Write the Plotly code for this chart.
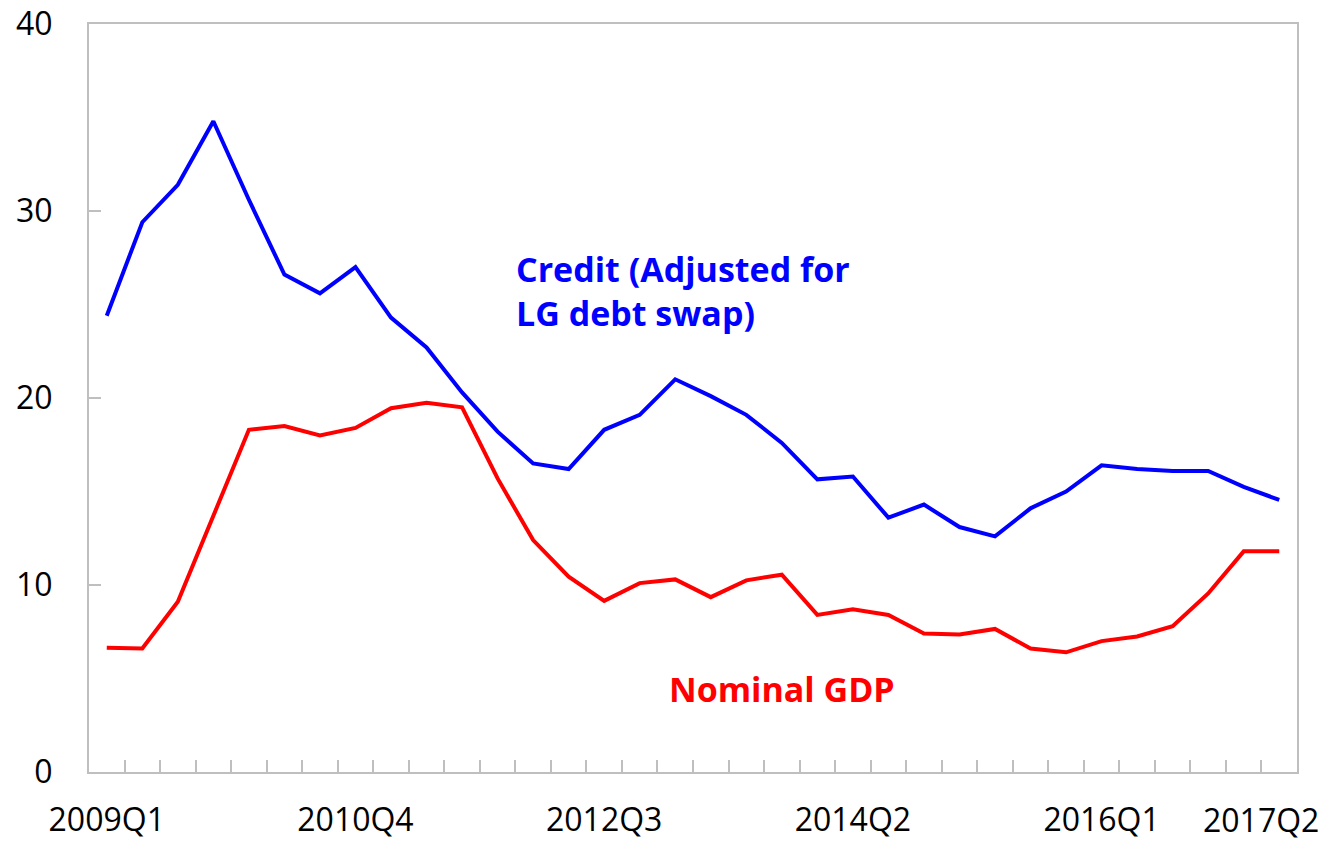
import plotly.graph_objects as go

quarters = [f"{y}Q{q}" for y in range(2009, 2018) for q in range(1, 5)][:34]

credit = [24.4, 29.4, 31.4, 34.8, 30.6, 26.6, 25.6, 27.0, 24.3, 22.7,
          20.3, 18.2, 16.5, 16.2, 18.3, 19.1, 21.0, 20.1, 19.1, 17.6,
          15.65, 15.8, 13.6, 14.3, 13.1, 12.6, 14.1, 15.0, 16.4, 16.2,
          16.1, 16.1, 15.25, 14.55]

gdp = [6.65, 6.6, 9.1, 13.7, 18.3, 18.5, 18.0, 18.4, 19.45, 19.75,
       19.5, 15.7, 12.4, 10.45, 9.15, 10.1, 10.3, 9.35, 10.25, 10.55,
       8.4, 8.7, 8.4, 7.4, 7.35, 7.65, 6.6, 6.4, 7.0, 7.25,
       7.8, 9.55, 11.8, 11.8]

label_quarters = ["2009Q1", "2010Q4", "2012Q3", "2014Q2", "2016Q1"]
last_label = "2017Q2"
yticks = [0, 10, 20, 30, 40]

FONT = "Open Sans"
idx = list(range(len(quarters)))

fig = go.Figure()
fig.add_trace(go.Scatter(x=idx, y=credit, mode="lines",
                         line=dict(color="#0000ff", width=4), name="Credit"))
fig.add_trace(go.Scatter(x=idx, y=gdp, mode="lines",
                         line=dict(color="#ff0000", width=4), name="Nominal GDP"))

axis_col = "#bfbfbf"
fig.update_xaxes(
    range=[-0.5, len(quarters) - 0.5], automargin=False,
    tickvals=[quarters.index(q) for q in label_quarters],
    ticktext=label_quarters, ticklabeloverflow="allow",
    ticks="", showgrid=False, zeroline=False,
    showline=True, linecolor=axis_col, linewidth=2, mirror=True,
    tickfont=dict(family=FONT, size=32, color="#000000"),
    ticklabelstandoff=19,
    minor=dict(tickvals=[i + 0.5 for i in idx[:-1]], ticks="inside",
               ticklen=12, tickcolor=axis_col, tickwidth=2, showgrid=False),
)
fig.update_yaxes(
    range=[0, 40], tickvals=yticks, automargin=False,
    ticklabeloverflow="allow",
    ticks="inside", ticklen=12, tickcolor=axis_col, tickwidth=2,
    showgrid=False, zeroline=False,
    showline=True, linecolor=axis_col, linewidth=2, mirror=True,
    tickfont=dict(family=FONT, size=32, color="#000000"),
    ticklabelstandoff=28,
)

fig.add_annotation(x=11.45, y=25.7, xref="x", yref="y",
                   text="<b>Credit (Adjusted for<br>LG debt swap)</b>",
                   showarrow=False, xanchor="left", yanchor="middle", align="left",
                   font=dict(family=FONT, size=34, color="#0000ff"))
fig.add_annotation(x=19.0, y=4.45, xref="x", yref="y",
                   text="<b>Nominal GDP</b>", showarrow=False,
                   xanchor="center", yanchor="middle",
                   font=dict(family=FONT, size=34, color="#ff0000"))
fig.add_annotation(x=32.48, y=0, xref="x", yref="paper",
                   text=last_label, showarrow=False,
                   xanchor="center", yanchor="top", yshift=-24,
                   font=dict(family=FONT, size=32, color="#000000"))

fig.update_layout(
    width=1329, height=842,
    margin=dict(l=89, r=32, t=24, b=70),
    paper_bgcolor="white", plot_bgcolor="white",
    showlegend=False,
)

# remove the browser's default 8px body margin so the figure fills the window
fig.write_html("out.html",
               config={"displayModeBar": False},
               post_script="document.body.style.margin='0';document.body.style.overflow='hidden';")
